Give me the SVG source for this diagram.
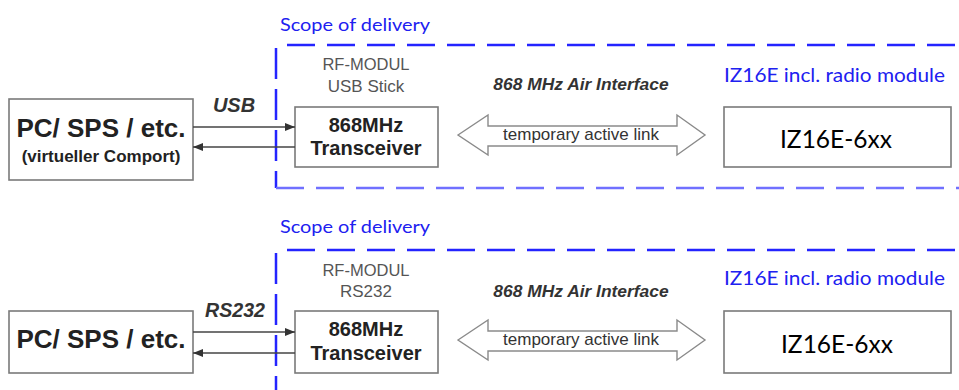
<svg xmlns="http://www.w3.org/2000/svg" width="959" height="390" viewBox="0 0 959 390">
<defs>
<marker id="ah" markerWidth="10" markerHeight="8" refX="10" refY="4" orient="auto" markerUnits="userSpaceOnUse">
<path d="M0,0 L10,4 L0,8 Z" fill="#333"/>
</marker>
<style>
.box{fill:#fff;stroke:#7a7a7a;stroke-width:1.6}
.link{stroke:#444;stroke-width:1.3;fill:none}
.scope{fill:none;stroke:#2424ff;stroke-width:2.5}
.scopeL{fill:none;stroke:#7070ff;stroke-width:2.5}
.dh{stroke-dasharray:28 12}
.dv{stroke-dasharray:31 10}
.blue{font-family:Lato,"Noto Sans",sans-serif;fill:#2020f0}
.ar{font-family:"Liberation Sans",Arial,sans-serif}
.bold{font-weight:bold;fill:#222}
.gray{fill:#555}
.air{font-weight:bold;font-style:italic;fill:#333}
.dbl{fill:#fff;stroke:#8a8a8a;stroke-width:1.4}
.iz{font-family:Lato,"Noto Sans",sans-serif;fill:#000}
</style>
</defs>
<rect width="959" height="390" fill="#fff"/>

<!-- Scope borders -->
<g id="scope1">
<text class="blue" x="280" y="31" font-size="18" textLength="150" lengthAdjust="spacingAndGlyphs">Scope of delivery</text>
<line class="scope dh" x1="287" y1="45" x2="959" y2="45"/>
<line class="scope dv" x1="276" y1="48" x2="276" y2="188"/>
<line class="scopeL dh" x1="276" y1="188" x2="959" y2="188"/>
</g>
<g id="scope2">
<text class="blue" x="280" y="233" font-size="18" textLength="150" lengthAdjust="spacingAndGlyphs">Scope of delivery</text>
<line class="scope dh" x1="287" y1="250" x2="959" y2="250"/>
<line class="scope dv" x1="276" y1="253" x2="276" y2="390"/>
</g>

<!-- Top row nodes -->
<g id="pc1">
<rect class="box" x="9" y="99" width="184" height="81"/>
<text class="ar bold" x="101" y="137" font-size="26" text-anchor="middle">PC/ SPS / etc.</text>
<text class="ar bold" x="101" y="162" font-size="17" text-anchor="middle">(virtueller Comport)</text>
</g>
<g id="rf1">
<text class="ar gray" x="366" y="70" font-size="16.5" text-anchor="middle">RF-MODUL</text>
<text class="ar gray" x="366" y="92" font-size="17" text-anchor="middle">USB Stick</text>
<rect class="box" x="295" y="107" width="143" height="60"/>
<text class="ar bold" x="366" y="132" font-size="20" text-anchor="middle">868MHz</text>
<text class="ar bold" x="366" y="155" font-size="20" text-anchor="middle">Transceiver</text>
</g>
<g id="iz1">
<text class="blue" x="724" y="82" font-size="20" textLength="221" lengthAdjust="spacingAndGlyphs">IZ16E incl. radio module</text>
<rect class="box" x="724" y="107" width="227" height="60" stroke-width="2"/>
<text class="iz" x="836" y="148" font-size="25" text-anchor="middle" textLength="112" lengthAdjust="spacingAndGlyphs">IZ16E-6xx</text>
</g>

<!-- Bottom row nodes -->
<g id="pc2">
<rect class="box" x="9" y="311" width="184" height="62"/>
<text class="ar bold" x="101" y="348" font-size="26" text-anchor="middle">PC/ SPS / etc.</text>
</g>
<g id="rf2">
<text class="ar gray" x="366" y="276" font-size="16.5" text-anchor="middle">RF-MODUL</text>
<text class="ar gray" x="366" y="297" font-size="17" text-anchor="middle">RS232</text>
<rect class="box" x="295" y="311" width="143" height="62"/>
<text class="ar bold" x="366" y="336" font-size="20" text-anchor="middle">868MHz</text>
<text class="ar bold" x="366" y="360" font-size="20" text-anchor="middle">Transceiver</text>
</g>
<g id="iz2">
<text class="blue" x="724" y="285" font-size="20" textLength="221" lengthAdjust="spacingAndGlyphs">IZ16E incl. radio module</text>
<rect class="box" x="724" y="311" width="227" height="62" stroke-width="2"/>
<text class="iz" x="837" y="353" font-size="25" text-anchor="middle" textLength="112" lengthAdjust="spacingAndGlyphs">IZ16E-6xx</text>
</g>

<!-- Connectors -->
<g id="connectors">
<line class="link" x1="193" y1="127" x2="295" y2="127" marker-end="url(#ah)"/>
<line class="link" x1="295" y1="147" x2="193" y2="147" marker-end="url(#ah)"/>
<text class="ar air" x="234" y="112" font-size="20" text-anchor="middle">USB</text>
<polygon class="dbl" points="458,135 488,115 488,126 677,126 677,115 705,135 677,155 677,146 488,146 488,155"/>
<text class="ar air" x="581" y="90" font-size="17.4" text-anchor="middle">868 MHz Air Interface</text>
<text class="ar" x="581" y="140" font-size="17" text-anchor="middle" fill="#333">temporary active link</text>

<line class="link" x1="193" y1="332" x2="295" y2="332" marker-end="url(#ah)"/>
<line class="link" x1="295" y1="353" x2="193" y2="353" marker-end="url(#ah)"/>
<text class="ar air" x="235" y="317" font-size="19.6" text-anchor="middle">RS232</text>
<polygon class="dbl" points="458,340 488,320 488,331 677,331 677,320 705,340 677,360 677,351 488,351 488,360"/>
<text class="ar air" x="581" y="297" font-size="17.4" text-anchor="middle">868 MHz Air Interface</text>
<text class="ar" x="581" y="345" font-size="17" text-anchor="middle" fill="#333">temporary active link</text>
</g>
</svg>
